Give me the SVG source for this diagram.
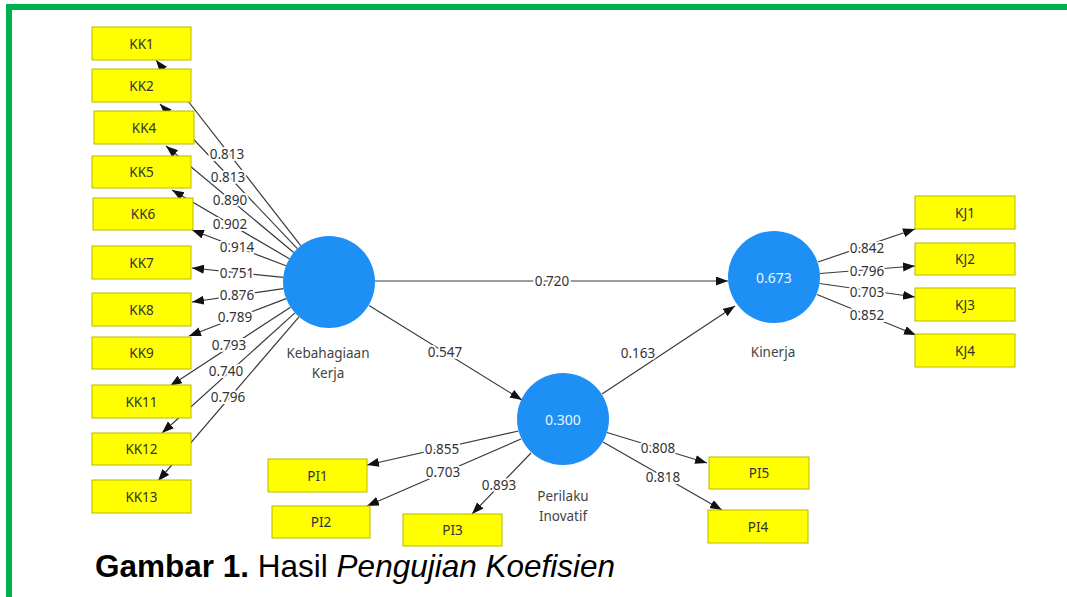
<svg xmlns="http://www.w3.org/2000/svg" width="1067" height="597" viewBox="0 0 1067 597">
<style>
.box{fill:#ffff00;stroke:#b8b800;stroke-width:1}
.bt{font-family:"Noto Sans","Open Sans",sans-serif;font-size:13.5px;fill:#333;text-anchor:middle;dominant-baseline:central}
.lv{fill:#1e90f5}
.cv{font-family:"Noto Sans","Open Sans",sans-serif;font-size:14px;fill:#e8f4ff;text-anchor:middle;dominant-baseline:central}
.cn{font-family:"Noto Sans","Open Sans",sans-serif;font-size:13.5px;fill:#444;text-anchor:middle;dominant-baseline:central}
.ln{stroke:#3a3a3a;stroke-width:1.2;fill:none;marker-end:url(#ah)}
.lb{font-family:"Noto Sans","Open Sans",sans-serif;font-size:13.5px;fill:#333;text-anchor:middle;dominant-baseline:central;stroke:#fff;stroke-width:4;paint-order:stroke;stroke-linejoin:round}
.cap{font-family:"Liberation Sans",Arial,sans-serif;font-size:31.5px;fill:#000}
</style>
<defs>
<marker id="ah" markerUnits="userSpaceOnUse" markerWidth="13" markerHeight="10" refX="12" refY="4.5" orient="auto">
<path d="M0,0 L12,4.5 L0,9 z" fill="#111"/>
</marker>
</defs>
<rect x="0" y="0" width="1067" height="597" fill="#fff"/>
<rect x="6" y="4" width="1061" height="6" fill="#00b050"/>
<rect x="6" y="4" width="6" height="593" fill="#00b050"/>

<g id="connectors">
<line class="ln" x1="300.7" y1="245.7" x2="156" y2="60"/>
<line class="ln" x1="297.3" y1="248.6" x2="160" y2="104"/>
<line class="ln" x1="293.7" y1="252.5" x2="166" y2="146"/>
<line class="ln" x1="289.3" y1="258.7" x2="172" y2="190"/>
<line class="ln" x1="286.0" y1="265.7" x2="192" y2="230"/>
<line class="ln" x1="283.2" y1="277.3" x2="192" y2="268"/>
<line class="ln" x1="283.5" y1="288.6" x2="192" y2="302"/>
<line class="ln" x1="286.1" y1="298.6" x2="189" y2="336"/>
<line class="ln" x1="290.5" y1="307.2" x2="170" y2="386"/>
<line class="ln" x1="294.9" y1="312.9" x2="162" y2="433"/>
<line class="ln" x1="299.0" y1="316.9" x2="158" y2="481"/>
<line class="ln" x1="375" y1="281" x2="728" y2="281"/>
<line class="ln" x1="369" y1="305.5" x2="522" y2="400"/>
<line class="ln" x1="602" y1="394" x2="735" y2="306"/>
<line class="ln" x1="518.5" y1="431" x2="367" y2="465"/>
<line class="ln" x1="521" y1="439" x2="367" y2="506"/>
<line class="ln" x1="531" y1="453" x2="472" y2="514"/>
<line class="ln" x1="607" y1="432.5" x2="707" y2="463"/>
<line class="ln" x1="603" y1="442" x2="722" y2="510"/>
<line class="ln" x1="818" y1="262" x2="915" y2="229"/>
<line class="ln" x1="820" y1="273.5" x2="915" y2="266"/>
<line class="ln" x1="819.5" y1="283.5" x2="915" y2="297"/>
<line class="ln" x1="817" y1="294.5" x2="916" y2="335"/>
<text class="lb" x="227" y="154">0.813</text>
<text class="lb" x="228" y="177">0.813</text>
<text class="lb" x="230" y="200">0.890</text>
<text class="lb" x="230" y="224">0.902</text>
<text class="lb" x="237" y="247">0.914</text>
<text class="lb" x="237" y="273">0.751</text>
<text class="lb" x="237" y="295">0.876</text>
<text class="lb" x="235" y="317">0.789</text>
<text class="lb" x="229" y="345">0.793</text>
<text class="lb" x="226" y="371">0.740</text>
<text class="lb" x="228" y="397">0.796</text>
<text class="lb" x="552" y="281">0.720</text>
<text class="lb" x="445" y="352">0.547</text>
<text class="lb" x="638" y="353">0.163</text>
<text class="lb" x="442" y="449">0.855</text>
<text class="lb" x="443" y="472">0.703</text>
<text class="lb" x="499" y="485">0.893</text>
<text class="lb" x="658" y="448">0.808</text>
<text class="lb" x="663" y="477">0.818</text>
<text class="lb" x="867" y="248">0.842</text>
<text class="lb" x="867" y="271">0.796</text>
<text class="lb" x="867" y="292">0.703</text>
<text class="lb" x="867" y="315">0.852</text>
</g>

<g id="kebahagiaan-kerja">
<circle class="lv" cx="329" cy="282" r="46"/>
<text class="cn" x="328" y="353">Kebahagiaan</text>
<text class="cn" x="328" y="373">Kerja</text>
</g>
<g id="kinerja">
<circle class="lv" cx="774" cy="277" r="46"/>
<text class="cv" x="774" y="277">0.673</text>
<text class="cn" x="773" y="352">Kinerja</text>
</g>
<g id="perilaku-inovatif">
<circle class="lv" cx="563" cy="419" r="46"/>
<text class="cv" x="563" y="419">0.300</text>
<text class="cn" x="563" y="496">Perilaku</text>
<text class="cn" x="563" y="516">Inovatif</text>
</g>

<g id="KK1"><rect class="box" x="92" y="27" width="99" height="33"/><text class="bt" x="141.5" y="43.5">KK1</text></g>
<g id="KK2"><rect class="box" x="92" y="69" width="99" height="33"/><text class="bt" x="141.5" y="85.5">KK2</text></g>
<g id="KK4"><rect class="box" x="94" y="111" width="100" height="33"/><text class="bt" x="144" y="127.5">KK4</text></g>
<g id="KK5"><rect class="box" x="92" y="156" width="99" height="32"/><text class="bt" x="141.5" y="172">KK5</text></g>
<g id="KK6"><rect class="box" x="93" y="198" width="100" height="32"/><text class="bt" x="143" y="214">KK6</text></g>
<g id="KK7"><rect class="box" x="92" y="246" width="99" height="33"/><text class="bt" x="141.5" y="262.5">KK7</text></g>
<g id="KK8"><rect class="box" x="92" y="293" width="99" height="33"/><text class="bt" x="141.5" y="309.5">KK8</text></g>
<g id="KK9"><rect class="box" x="92" y="337" width="99" height="32"/><text class="bt" x="141.5" y="353">KK9</text></g>
<g id="KK11"><rect class="box" x="92" y="385" width="99" height="33"/><text class="bt" x="141.5" y="401.5">KK11</text></g>
<g id="KK12"><rect class="box" x="92" y="433" width="99" height="32"/><text class="bt" x="141.5" y="449">KK12</text></g>
<g id="KK13"><rect class="box" x="92" y="480" width="99" height="33"/><text class="bt" x="141.5" y="496.5">KK13</text></g>

<g id="PI1"><rect class="box" x="268" y="459" width="99" height="33"/><text class="bt" x="317.5" y="475.5">PI1</text></g>
<g id="PI2"><rect class="box" x="272" y="506" width="98" height="32"/><text class="bt" x="321" y="522">PI2</text></g>
<g id="PI3"><rect class="box" x="403" y="514" width="99" height="32"/><text class="bt" x="452.5" y="530">PI3</text></g>
<g id="PI5"><rect class="box" x="709" y="457" width="100" height="32"/><text class="bt" x="759" y="473">PI5</text></g>
<g id="PI4"><rect class="box" x="708" y="510" width="100" height="33"/><text class="bt" x="758" y="526.5">PI4</text></g>

<g id="KJ1"><rect class="box" x="915" y="196" width="100" height="33"/><text class="bt" x="965" y="212.5">KJ1</text></g>
<g id="KJ2"><rect class="box" x="915" y="243" width="100" height="32"/><text class="bt" x="965" y="259">KJ2</text></g>
<g id="KJ3"><rect class="box" x="915" y="288" width="100" height="33"/><text class="bt" x="965" y="304.5">KJ3</text></g>
<g id="KJ4"><rect class="box" x="915" y="334" width="100" height="33"/><text class="bt" x="965" y="350.5">KJ4</text></g>

<text class="cap" x="95" y="577"><tspan font-weight="bold">Gambar 1.</tspan> Hasil <tspan font-style="italic">Pengujian Koefisien</tspan></text>
</svg>
